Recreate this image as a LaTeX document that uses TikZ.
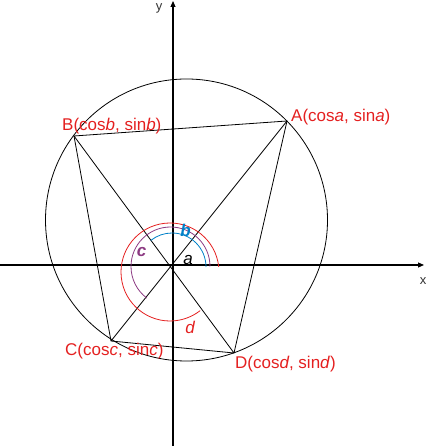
\documentclass[tikz,border=0pt]{standalone}
\usepackage{fontspec}
\setmainfont{Liberation Sans}
\usetikzlibrary{arrows.meta}
\definecolor{lblred}{RGB}{228,32,32}
\definecolor{arcpurple}{RGB}{140,58,130}
\definecolor{arcblue}{RGB}{0,128,200}
\tikzset{
  axisline/.style={line width=1.1pt,-{Triangle[length=6pt,width=5pt]}},
  thinline/.style={line width=0.8pt},
  ptlabel/.style={text=lblred,inner sep=0pt,anchor=base west,font=\fontsize{17}{19}\selectfont},
  axlabel/.style={inner sep=0pt,text=black!80,font=\fontsize{13}{15}\selectfont},
  anglabel/.style={inner sep=0pt,font=\fontsize{17}{19}\selectfont}
}
\begin{document}
\begin{tikzpicture}[x=1pt,y=1pt]
\useasboundingbox (0,0) rectangle (429,446);
% points
\coordinate (O) at (173,181);
\coordinate (M) at (186.5,226);
\coordinate (A) at (287,325);
\coordinate (B) at (74,310);
\coordinate (C) at (111,105);
\coordinate (D) at (234,93);
\coordinate (xs) at (0,181);
\coordinate (xe) at (424,181);
\coordinate (ys) at (173,0);
\coordinate (ye) at (173,445);
% axes
\draw[axisline] (xs) -- (xe);
\draw[axisline] (ys) -- (ye);
\node[axlabel] (xl) at (423,165) {x};
\node[axlabel] (yl) at (159,438) {y};
% circle
\draw[thinline] (M) circle[radius=141];
% quadrilateral and diagonals
\draw[thinline] (A) -- (B) -- (C) -- (D) -- cycle;
\draw[thinline] (A) -- (C);
\draw[thinline] (B) -- (D);
% angle arcs
\draw[arcblue,line width=0.8pt] (172,179) ++(0:34) arc[start angle=0,end angle=128.5,radius=34];
\draw[arcpurple,line width=0.8pt] (170.5,179.5) ++(0:39.5) arc[start angle=0,end angle=233,radius=39.5];
\draw[lblred,line width=0.8pt] (170,174) ++(6:49) arc[start angle=6,end angle=308,radius=49];
% angle labels
\node[anglabel,text=arcblue] (lb) at (185.5,216) {\bfseries\itshape b};
\node[anglabel,text=arcpurple] (lc) at (141.5,193.5) {\bfseries\itshape c};
\node[anglabel,text=black] (la) at (188,186) {\itshape a};
\node[anglabel,text=lblred] (ld) at (190,119) {\itshape d};
% point labels
\node[ptlabel] (lA) at (291,324) {A(cos\textit{a}, sin\textit{a})};
\node[ptlabel] (lB) at (62,315) {B(cos\textit{b}, sin\textit{b})};
\node[ptlabel] (lC) at (65,90) {C(cos\textit{c}, sin\textit{c})};
\node[ptlabel] (lD) at (235,77) {D(cos\textit{d}, sin\textit{d})};
\end{tikzpicture}
\end{document}
